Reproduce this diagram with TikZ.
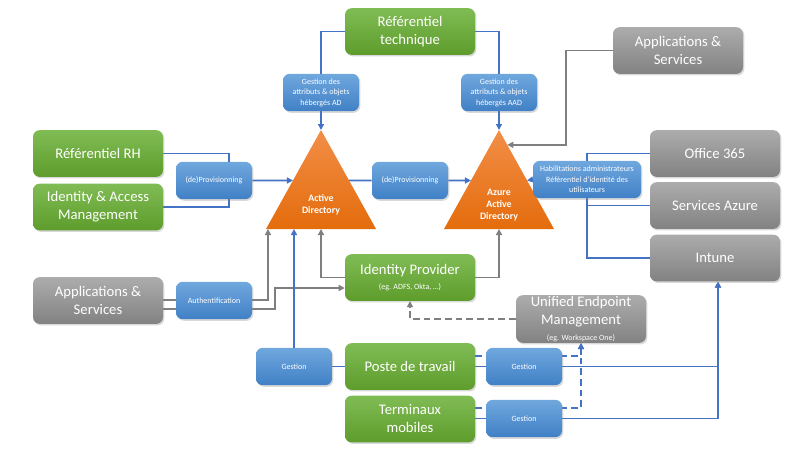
\documentclass[tikz,border=0pt]{standalone}
\usepackage{fontspec}
\setmainfont{Carlito}
\usepackage{tikz}
\usetikzlibrary{positioning,calc,arrows.meta,shadows,backgrounds}
\definecolor{LineBlue}{RGB}{68,114,196}
\definecolor{LineGray}{RGB}{127,127,127}
\definecolor{GreenTop}{RGB}{128,188,84}
\definecolor{GreenBot}{RGB}{94,156,44}
\definecolor{GrayTop}{RGB}{172,172,172}
\definecolor{GrayBot}{RGB}{130,130,130}
\definecolor{BlueTop}{RGB}{112,168,222}
\definecolor{BlueBot}{RGB}{64,128,198}
\definecolor{OrangeTop}{RGB}{242,142,72}
\definecolor{OrangeBot}{RGB}{228,108,12}
\tikzset{
    basebox/.style={rectangle, rounded corners=5pt, draw=none, text=white, align=center, inner sep=1pt,
        drop shadow={opacity=0.3, shadow xshift=1pt, shadow yshift=-1.2pt}},
    greenbox/.style={basebox, top color=GreenTop, bottom color=GreenBot, minimum width=97.5pt, minimum height=35pt, font=\fontsize{11}{13.5}\selectfont},
    graybox/.style={basebox, top color=GrayTop, bottom color=GrayBot, minimum width=97.5pt, minimum height=35pt, font=\fontsize{11}{13.5}\selectfont},
    bluebox/.style={basebox, top color=BlueTop, bottom color=BlueBot, minimum width=57pt, minimum height=28pt, font=\fontsize{6}{7.9}\selectfont},
    blueline/.style={draw=LineBlue, line width=1.4pt},
    grayline/.style={draw=LineGray, line width=1.4pt}
}
\newcommand{\smalltext}{\fontsize{6}{7.9}\selectfont}

\begin{document}
\begin{tikzpicture}[
                x=0.75pt, y=-0.75pt,
                % Style cho mui ten
                toarrow/.style={-{Triangle[length=4.5pt,width=4.5pt]}},
                % Style cho nhan trong tam giac
                trilabel/.style={text=white, align=center, font=\bfseries\fontsize{7.4}{8.8}\selectfont},
                dashline/.style={dash pattern=on 5pt off 3pt}
            ]
                \useasboundingbox (0,0) rectangle (800,450);

                % --- TAM GIAC AD / AAD ---
                \coordinate (ADtop) at (321,130);
                \coordinate (ADleft) at (266,229);
                \coordinate (ADright) at (376,229);
                \path[top color=OrangeTop, bottom color=OrangeBot] (ADtop) -- (ADright) -- (ADleft) -- cycle;
                \node[trilabel] (AD) at (321,205) {Active\\Directory};

                \coordinate (AADtop) at (499,130);
                \coordinate (AADleft) at (444,229);
                \coordinate (AADright) at (554,229);
                \path[top color=OrangeTop, bottom color=OrangeBot] (AADtop) -- (AADright) -- (AADleft) -- cycle;
                \node[trilabel] (AAD) at (499,205) {Azure\\Active\\Directory};

                % Diem tren canh tam giac
                \coordinate (ADw) at ($(ADtop)!0.51!(ADleft)$);
                \coordinate (ADe) at ($(ADtop)!0.51!(ADright)$);
                \coordinate (ADbase1) at (268,229);
                \coordinate (ADbase3) at (321,229);
                \coordinate (AADw) at ($(AADtop)!0.51!(AADleft)$);
                \coordinate (AADe) at ($(AADtop)!0.51!(AADright)$);
                \coordinate (AADn) at ($(AADtop)!0.15!(AADright)$);
                \coordinate (AADbase) at (499,229);

                % --- CAC NUT ---
                \node[greenbox] (reftech) at (410,31.5) {Référentiel\\technique};
                \node[bluebox] (gestAD) at (321,92.5) {Gestion des\\attributs \& objets\\hébergés AD};
                \node[bluebox] (gestAAD) at (499,92.5) {Gestion des\\attributs \& objets\\hébergés AAD};

                \node[greenbox] (rh) at (98,153.5) {Référentiel RH};
                \node[greenbox] (iam) at (98,207) {Identity \& Access\\Management};
                \node[bluebox] (prov1) at (214,180.5) {(de)Provisionning};
                \node[bluebox] (prov2) at (410,180.5) {(de)Provisionning};
                \node[bluebox, minimum width=81pt] (habil) at (587,179.5)
                    {Habilitations administrateurs\\Référentiel d'identité des\\utilisateurs};

                \node[graybox] (apps2) at (678,50.5) {Applications \&\\Services};
                \node[graybox] (office) at (715,153.5) {Office 365};
                \node[graybox] (azure) at (715,205.5) {Services Azure};
                \node[graybox] (intune) at (715,258) {Intune};

                \node[greenbox] (idp) at (410,277.5) {Identity Provider\\[-2pt]{\smalltext (eg. ADFS, Okta, …)}};
                \node[graybox] (apps1) at (98,300.5) {Applications \&\\Services};
                \node[bluebox] (auth) at (214,300.5) {Authentification};
                \node[graybox] (uem) at (581,319) {Unified Endpoint\\Management\\[-2pt]{\smalltext (eg. Workspace One)}};

                \node[bluebox] (gest0) at (294,366.5) {Gestion};
                \node[greenbox] (poste) at (410,366.5) {Poste de travail};
                \node[greenbox] (term) at (410,419) {Terminaux\\mobiles};
                \node[bluebox] (gest1) at (524,366.5) {Gestion};
                \node[bluebox] (gest2) at (524,418.5) {Gestion};

                % --- CAC DUONG NOI ---
                \begin{scope}[on background layer]
                    % Referentiel technique
                    \draw[blueline] (reftech.west) -| (gestAD.north);
                    \draw[blueline, toarrow] (gestAD.south) -- (ADtop);
                    \draw[blueline] (reftech.east) -| (gestAAD.north);
                    \draw[blueline, toarrow] (gestAAD.south) -- (AADtop);
                    % Provisionning
                    \draw[blueline] (rh.east) -| ($(prov1.north)+(15,0)$);
                    \draw[blueline] (iam.east) -| ($(prov1.south)+(15,0)$);
                    \draw[blueline, toarrow] (prov1.east) -- (ADw);
                    \draw[blueline] (ADe) -- (prov2.west);
                    \draw[blueline, toarrow] (prov2.east) -- (AADw);
                    \draw[blueline, toarrow] (habil.west) -- (AADe);
                    \draw[blueline] (office.west) -| (habil.north);
                    \draw[blueline] (habil.south) |- (intune.west);
                    \draw[blueline] (habil.south |- azure.west) -- (azure.west);
                    % Applications & Services
                    \draw[grayline, toarrow] (apps2.west) -- ++(-47,0) |- (AADn);
                    \draw[grayline, toarrow] ($(apps1.east)+(0,-0.5)$) -| (ADbase1);
                    \draw[grayline, toarrow] ($(apps1.east)+(0,8.5)$) -- ++(112,0) |- ($(idp.west)+(0,10.5)$);
                    % Identity Provider
                    \draw[grayline, toarrow] (idp.west) -| (ADbase3);
                    \draw[grayline, toarrow] (idp.east) -| (AADbase);
                    \draw[grayline, dashline, toarrow] (uem.west) -| (idp.south);
                    % Gestion des postes
                    \draw[blueline, toarrow] (gest0.north) -- (gest0.north |- ADleft);
                    \draw[blueline] (gest0.east) -- (poste.west);
                    \draw[blueline, toarrow] (poste.east) -| ($(intune.south)+(3,0)$);
                    \draw[blueline, toarrow] ($(term.east)+(0,-0.5)$) -| ($(intune.south)+(3,0)$);
                    \draw[blueline, dashline, toarrow] ($(poste.east)+(0,-10.5)$) -| (uem.south);
                    \draw[blueline, dashline, toarrow] ($(term.east)+(0,-11)$) -| (uem.south);
                \end{scope}

            \end{tikzpicture}
\end{document}
